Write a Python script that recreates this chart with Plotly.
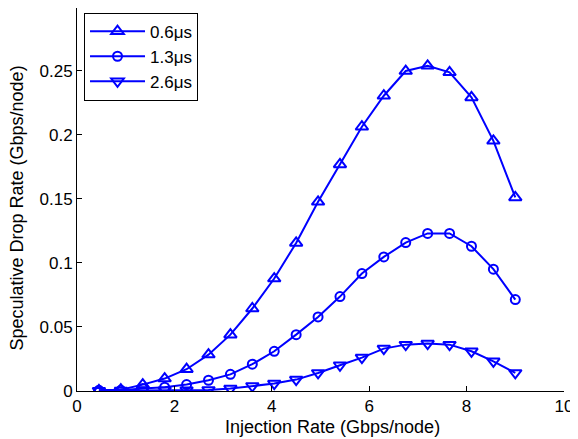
import plotly.graph_objects as go

x_rate = [0.45, 0.9, 1.35, 1.8, 2.25, 2.7, 3.15, 3.6, 4.05, 4.5,
          4.95, 5.4, 5.85, 6.3, 6.75, 7.2, 7.65, 8.1, 8.55, 9.0]

drop_06 = [0.0005, 0.001, 0.005, 0.0097, 0.017, 0.0284, 0.044, 0.0644, 0.0878, 0.1156,
           0.1477, 0.1769, 0.2063, 0.2305, 0.2498, 0.2539, 0.2488, 0.2292, 0.1953, 0.1511]
drop_13 = [0.0005, 0.0005, 0.002, 0.003, 0.005, 0.0084, 0.013, 0.0209, 0.031, 0.044,
           0.0578, 0.0737, 0.0917, 0.1047, 0.1159, 0.123, 0.123, 0.113, 0.0951, 0.0714]
drop_26 = [0.0002, 0.0003, 0.0004, 0.0005, 0.0006, 0.0008, 0.0019, 0.0039, 0.0058, 0.0089,
           0.0141, 0.0201, 0.0261, 0.0331, 0.0362, 0.037, 0.0362, 0.031, 0.0232, 0.0141]

series_names = ["0.6\u03bcs", "1.3\u03bcs", "2.6\u03bcs"]
x_ticks = [0, 2, 4, 6, 8, 10]
y_ticks = [0, 0.05, 0.1, 0.15, 0.2, 0.25]
y_tick_labels = ["0", "0.05", "0.1", "0.15", "0.2", "0.25"]
x_title = "Injection Rate (Gbps/node)"
y_title = "Speculative Drop Rate (Gbps/node)"

BLUE = "rgb(0,0,255)"
symbols = ["triangle-up-open", "circle-open", "triangle-down-open"]
sizes = [11, 9, 11]

fig = go.Figure()
for name, ys, sym, sz in zip(series_names, [drop_06, drop_13, drop_26], symbols, sizes):
    fig.add_trace(go.Scatter(
        x=x_rate, y=ys, name=name, mode="lines+markers",
        line=dict(color=BLUE, width=2),
        marker=dict(symbol=sym, size=sz, color=BLUE, line=dict(color=BLUE, width=2)),
    ))

FAM = "Liberation Sans, Arial, sans-serif"
font = dict(family=FAM, size=17, color="black")
# page body has an 8px default margin, so the figure is sized to fit 578x439 window
fig.update_layout(
    width=570, height=431,
    margin=dict(l=69, r=14, t=0, b=48),
    paper_bgcolor="white", plot_bgcolor="white",
    font=font,
    showlegend=True,
    legend=dict(
        x=0.0144, y=0.988, xanchor="left", yanchor="top",
        bordercolor="black", borderwidth=1, bgcolor="white",
        font=dict(family=FAM, size=17, color="black"),
        tracegroupgap=0, itemwidth=55,
    ),
    xaxis=dict(
        range=[0, 10], tickvals=x_ticks, ticktext=[str(t) for t in x_ticks],
        ticks="inside", ticklen=5, tickcolor="black",
        showline=True, linecolor="black", linewidth=1,
        showgrid=False, zeroline=False, automargin=False,
        tickfont=font,
    ),
    yaxis=dict(
        range=[0, 0.299], tickvals=y_ticks, ticktext=y_tick_labels,
        ticks="inside", ticklen=5, tickcolor="black",
        showline=True, linecolor="black", linewidth=1,
        showgrid=False, zeroline=False, automargin=False,
        tickfont=font,
    ),
    annotations=[
        dict(text=x_title, xref="paper", yref="paper", x=0.5246, y=-0.094,
             xanchor="center", yanchor="middle", showarrow=False,
             font=dict(family=FAM, size=18, color="black")),
        dict(text=y_title, xref="paper", yref="paper", x=-0.1252, y=0.4765,
             xanchor="center", yanchor="middle", showarrow=False, textangle=-90,
             font=dict(family=FAM, size=18, color="black")),
    ],
)

fig.write_html("out.html")
